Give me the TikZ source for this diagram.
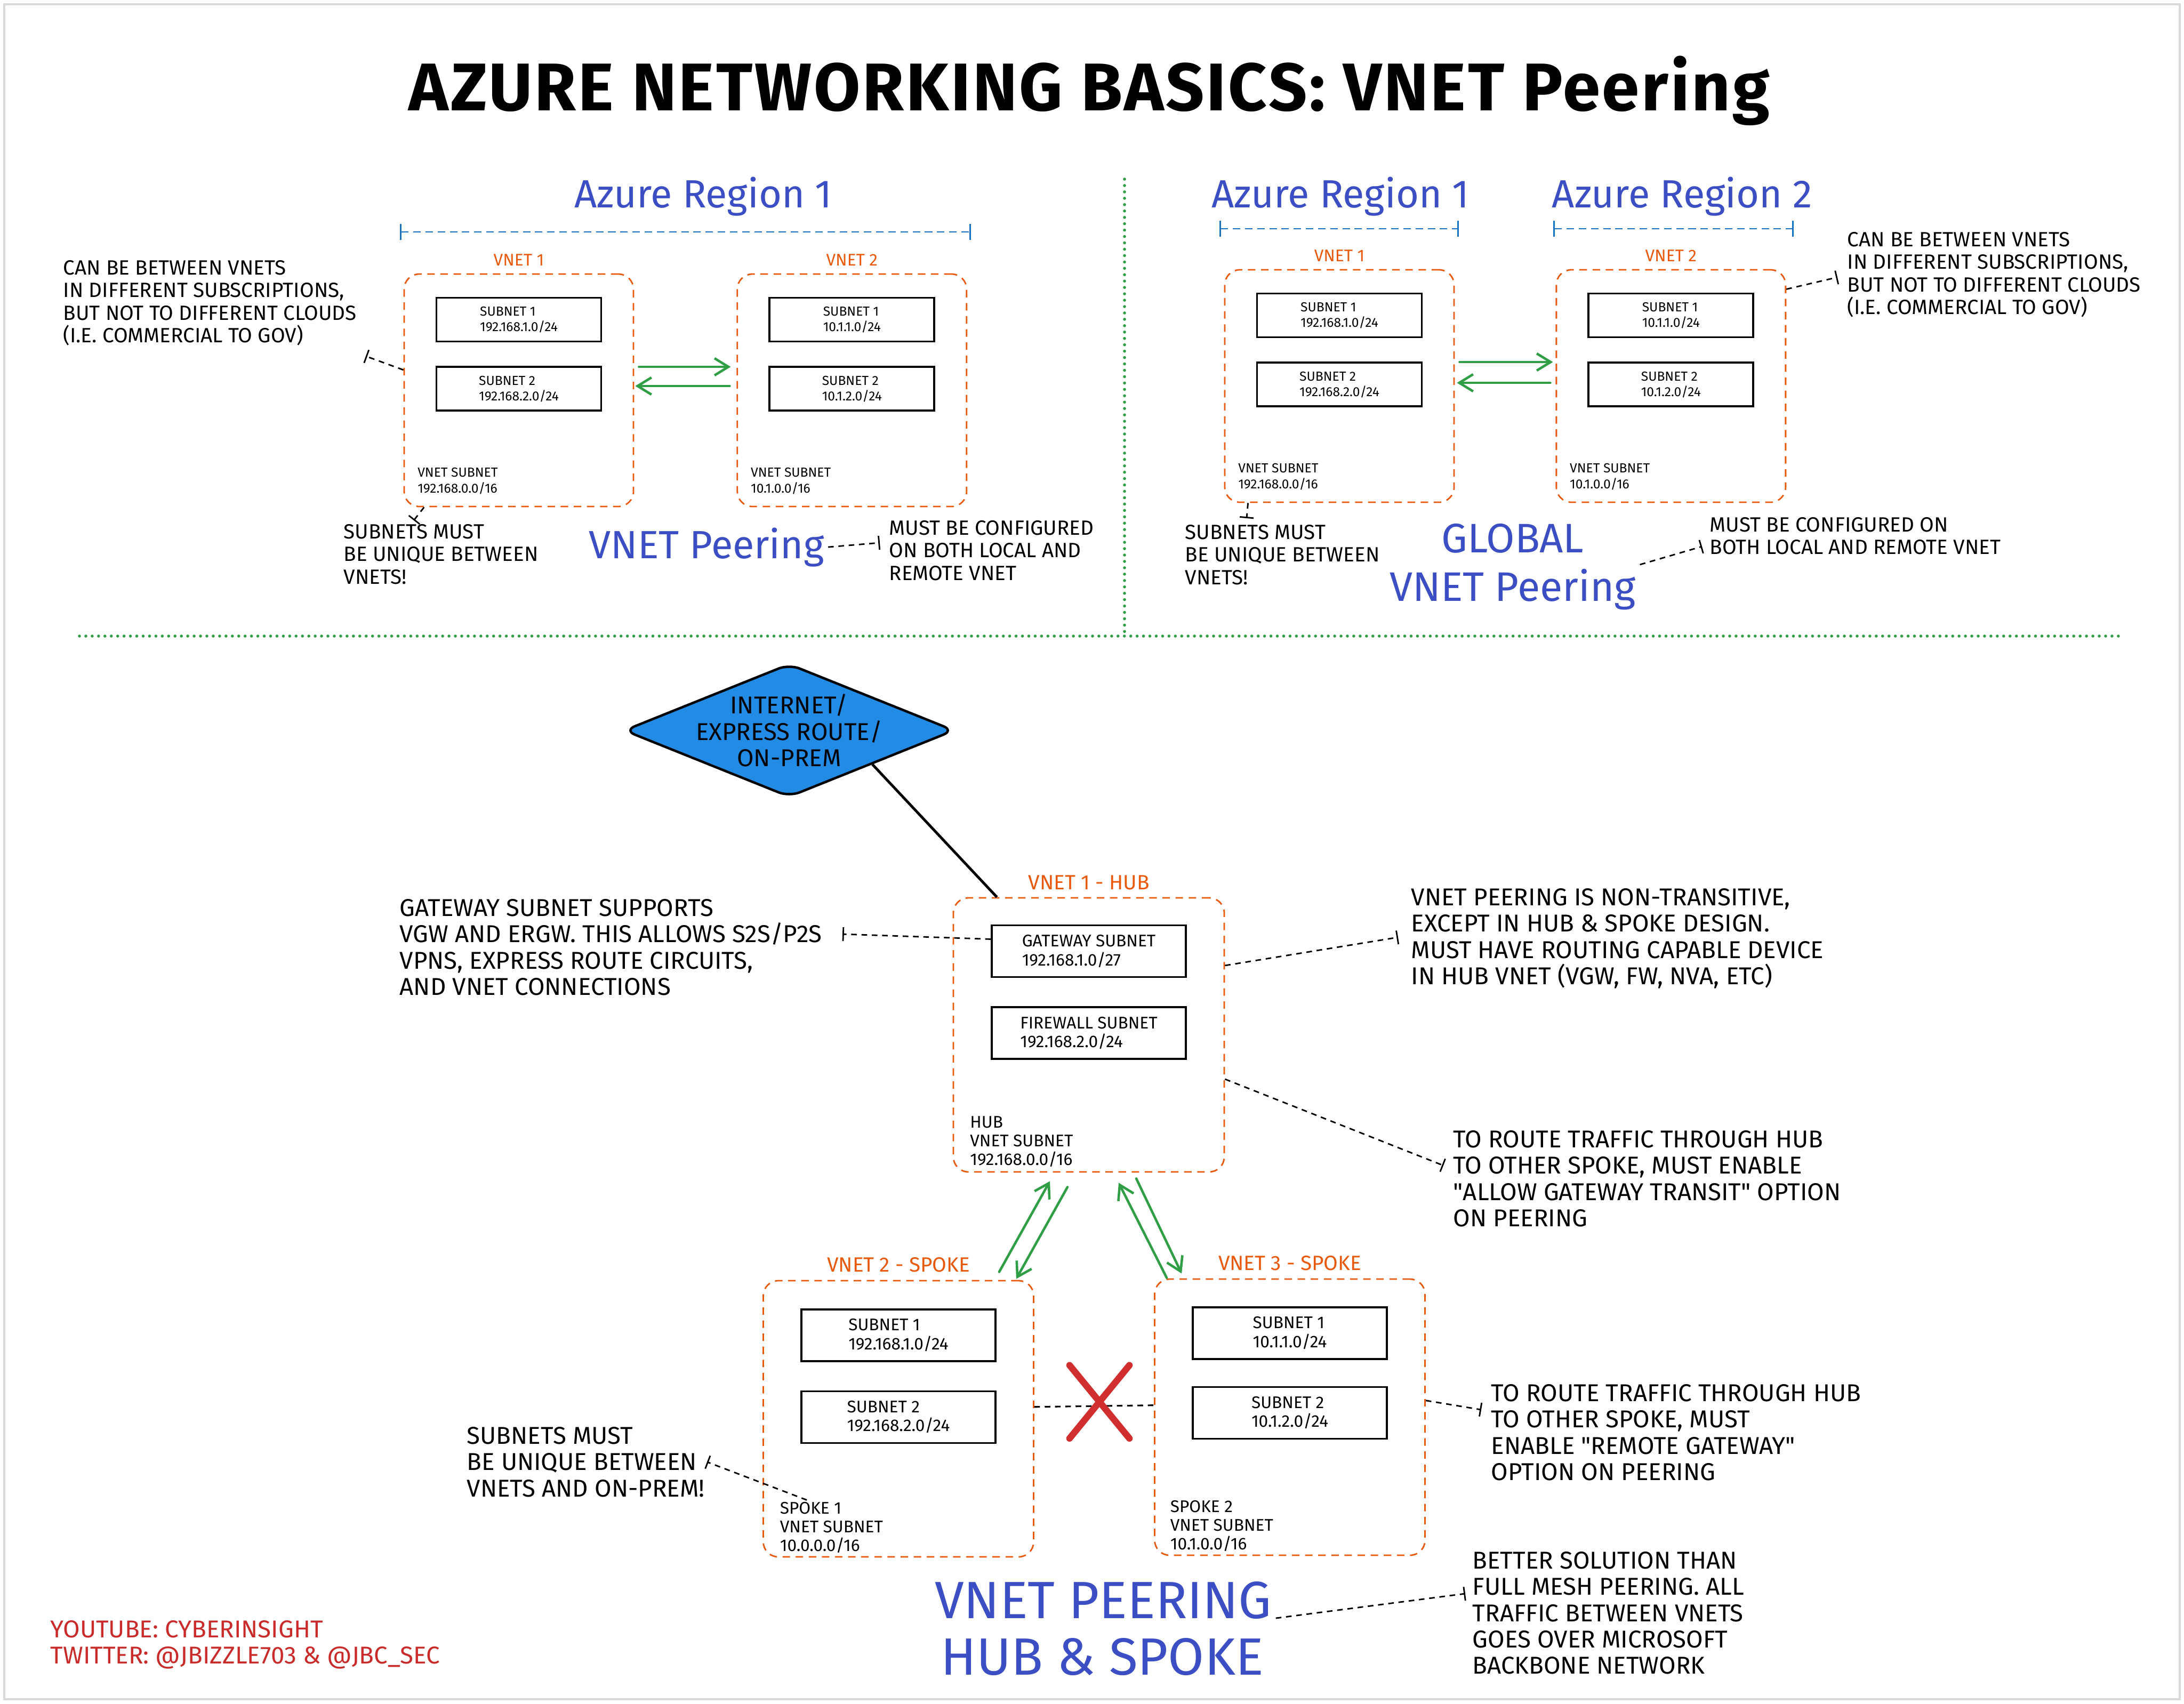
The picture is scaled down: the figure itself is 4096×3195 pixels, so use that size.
\documentclass[tikz,border=0pt]{standalone}
\usepackage{fontspec}
\setmainfont{Fira Sans}
\usepackage{xcolor}
\usepackage{tikz}
\usetikzlibrary{
    positioning,
    arrows.meta,
    calc,
    shapes.geometric,
    shapes.misc
}
\definecolor{vnetOrange}{HTML}{E8590C}
\definecolor{headBlue}{HTML}{3B4EC4}
\definecolor{lineBlue}{HTML}{1971C2}
\definecolor{peerGreen}{HTML}{2F9E44}
\definecolor{netBlue}{HTML}{228BE6}
\definecolor{markRed}{HTML}{D12F2F}
\definecolor{creditRed}{HTML}{C92A2A}
\tikzset{
    % VNETの枠(オレンジの破線)
    vnetbox/.style={
        rectangle,
        rounded corners=8pt,
        draw=vnetOrange,
        line width=0.8pt,
        dash pattern=on 4pt off 3pt,
        inner sep=0pt,
        minimum width=43mm,
        minimum height=43.6mm
    },
    hubsize/.style={minimum width=50.8mm, minimum height=51.4mm},
    spokesize/.style={minimum width=50.7mm, minimum height=51.8mm},
    % サブネットの箱
    subnetbox/.style={
        rectangle,
        draw=black,
        line width=1.1pt,
        fill=white,
        align=left,
        inner sep=0pt,
        minimum width=30.9mm,
        minimum height=8.2mm,
        font=\fontsize{7}{8.3}\selectfont
    },
    bigsubnet/.style={
        subnetbox,
        minimum width=36.4mm,
        minimum height=9.7mm,
        font=\fontsize{9}{10}\selectfont
    },
    % VNETのアドレス
    vnettext/.style={align=left, inner sep=0pt, font=\fontsize{7}{8.3}\selectfont},
    bigvnettext/.style={vnettext, font=\fontsize{9}{10}\selectfont},
    % VNET名(オレンジ)
    vnetlabel/.style={text=vnetOrange, inner sep=0pt, font=\fontsize{9}{10}\selectfont},
    hublabel/.style={vnetlabel, font=\fontsize{11}{12}\selectfont},
    % 注釈テキスト
    note/.style={anchor=north west, align=left, inner sep=0pt, font=\fontsize{11}{12}\selectfont},
    bignote/.style={note, font=\fontsize{13}{14}\selectfont},
    % 見出し(青)
    heading/.style={anchor=base, text=headBlue, inner sep=2pt, font=\fontsize{21}{25}\selectfont},
    midheading/.style={heading, font=\fontsize{22}{26}\selectfont},
    bigheading/.style={heading, font=\fontsize{28}{32}\selectfont},
    titletext/.style={anchor=base, inner sep=0pt,
        font=\fontsize{36}{42}\selectfont\bfseries\addfontfeatures{LetterSpace=3}},
    % ピアリングの矢印(緑)
    peer/.style={
        draw=peerGreen,
        line width=1.3pt,
        line cap=round,
        -{Straight Barb[length=2.6mm, width=3.2mm]}
    },
    % 注釈への破線
    notelink/.style={
        draw=black,
        line width=0.8pt,
        dash pattern=on 3pt off 2.5pt,
        -{Bar[width=2.6mm]}
    },
    spokelink/.style={draw=black, line width=0.9pt, dash pattern=on 3pt off 2.5pt},
    uplink/.style={draw=black, line width=1.4pt},
    % インターネット(ひし形)
    netdiamond/.style={
        diamond,
        draw=black,
        line width=1.3pt,
        fill=netBlue,
        rounded corners=6pt,
        inner sep=0pt,
        minimum width=62mm,
        minimum height=25mm
    },
    nettext/.style={align=center, inner sep=0pt, font=\fontsize{13}{14}\selectfont},
    % 不可(赤のバツ)
    nomark/.style={
        cross out,
        draw=markRed,
        line width=3.5pt,
        line cap=round,
        inner sep=0pt,
        minimum width=10mm,
        minimum height=12.5mm
    },
    % リージョンの範囲(青の破線)
    bracket/.style={
        draw=lineBlue,
        line width=0.8pt,
        dash pattern=on 4pt off 2.5pt,
        {Bar[width=3mm]}-{Bar[width=3mm]}
    },
    % 区切り線(緑の点線)
    divider/.style={draw=peerGreen, line width=1.6pt, line cap=round, dash pattern=on 0pt off 3.4pt}
}

\begin{document}
\begin{tikzpicture}[x=0.1mm, y=-0.1mm]

    \useasboundingbox (0,0) rectangle (4096,3195);
    % 背景と外枠
    \fill[white] (0,0) rectangle (4096,3195);
    \draw[gray!30, line width=1.2pt] (8,8) rectangle (4088,3187);

    % タイトル
    \node[titletext] (title) at (2043,207) {AZURE NETWORKING BASICS: VNET Peering};

    % 区切り線
    \draw[divider] (2109,336) -- (2109,1188);
    \draw[divider] (149,1193) -- (3978,1193);

    % [1] 同一リージョン内のVNETピアリング
    \node[heading] (regL) at (1319,389) {Azure Region 1};
    \draw[bracket] (750,435) -- (1821,435);

    \node[vnetbox] (l1) at (973,732) {};
    \node[vnetbox, right=19.2mm of l1] (l2) {};
    \node[vnetlabel, above=1.3mm of l1] (l1lab) {VNET 1};
    \node[vnetlabel, above=1.3mm of l2] (l2lab) {VNET 2};
    \node[subnetbox, below=4.4mm of l1.north] (l1a) {SUBNET 1\\192.168.1.0/24};
    \node[subnetbox, below=4.4mm of l1a] (l1b) {SUBNET 2\\192.168.2.0/24};
    \node[subnetbox, below=4.4mm of l2.north] (l2a) {SUBNET 1\\10.1.1.0/24};
    \node[subnetbox, below=4.4mm of l2a] (l2b) {SUBNET 2\\10.1.2.0/24};
    \node[vnettext, above right=2.4mm and 2.6mm of l1.south west] (l1t) {VNET SUBNET\\192.168.0.0/16};
    \node[vnettext, above right=2.4mm and 2.6mm of l2.south west] (l2t) {VNET SUBNET\\10.1.0.0/16};

    % 双方向のピアリング
    \draw[peer] ([xshift=0.9mm, yshift=4.4mm]l1.east) -- ([xshift=-1.1mm, yshift=4.4mm]l2.west);
    \draw[peer] ([xshift=-1.3mm, yshift=0.8mm]l2.west) -- ([xshift=0.2mm, yshift=0.8mm]l1.east);

    \node[heading] (peerL) at (1325,1047) {VNET Peering};

    % 注釈
    \node[note] (l1note) at (118,488) {CAN BE BETWEEN VNETS\\IN DIFFERENT SUBSCRIPTIONS,\\BUT NOT TO DIFFERENT CLOUDS\\(I.E. COMMERCIAL TO GOV)};
    \coordinate (c_l1note) at (686,668);
    \draw[notelink] (l1.170) -- (c_l1note);

    \node[note] (l2note) at (644,983) {SUBNETS MUST\\BE UNIQUE BETWEEN\\VNETS!};
    \coordinate (c_l2note) at (776,976);
    \draw[notelink] (l1.231) -- (c_l2note);

    \node[note] (l3note) at (1667,976) {MUST BE CONFIGURED\\ON BOTH LOCAL AND\\REMOTE VNET};
    \coordinate (c_l3note) at (1650,1018);
    \draw[notelink] (peerL.east) -- (c_l3note);

    % [2] グローバルVNETピアリング
    \node[heading] (regR1) at (2514,389) {Azure Region 1};
    \node[heading] (regR2) at (3155,389) {Azure Region 2};
    \draw[bracket] (2287,429) -- (2736,429);
    \draw[bracket] (2913,429) -- (3364,429);

    \node[vnetbox] (r1) at (2512,724) {};
    \node[vnetbox, right=18.9mm of r1] (r2) {};
    \node[vnetlabel, above=1.3mm of r1] (r1lab) {VNET 1};
    \node[vnetlabel, above=1.3mm of r2] (r2lab) {VNET 2};
    \node[subnetbox, below=4.4mm of r1.north] (r1a) {SUBNET 1\\192.168.1.0/24};
    \node[subnetbox, below=4.4mm of r1a] (r1b) {SUBNET 2\\192.168.2.0/24};
    \node[subnetbox, below=4.4mm of r2.north] (r2a) {SUBNET 1\\10.1.1.0/24};
    \node[subnetbox, below=4.4mm of r2a] (r2b) {SUBNET 2\\10.1.2.0/24};
    \node[vnettext, above right=2.4mm and 2.6mm of r1.south west] (r1t) {VNET SUBNET\\192.168.0.0/16};
    \node[vnettext, above right=2.4mm and 2.6mm of r2.south west] (r2t) {VNET SUBNET\\10.1.0.0/16};

    \draw[peer] ([xshift=0.9mm, yshift=4.5mm]r1.east) -- ([xshift=-0.5mm, yshift=4.5mm]r2.west);
    \draw[peer] ([xshift=-1.0mm, yshift=0.6mm]r2.west) -- ([xshift=0.4mm, yshift=0.6mm]r1.east);

    \node[midheading] (glob) at (2837,1036) {GLOBAL};
    \node[midheading] (peerR) at (2837,1127) {VNET Peering};

    \node[note] (r1note) at (3464,435) {CAN BE BETWEEN VNETS\\IN DIFFERENT SUBSCRIPTIONS,\\BUT NOT TO DIFFERENT CLOUDS\\(I.E. COMMERCIAL TO GOV)};
    \coordinate (c_r1note) at (3446,520);
    \draw[notelink] (r2.40) -- (c_r1note);

    \node[note] (r2note) at (2222,984) {SUBNETS MUST\\BE UNIQUE BETWEEN\\VNETS!};
    \coordinate (c_r2note) at (2338,972);
    \draw[notelink] (r1.232) -- (c_r2note);

    \node[note] (r3note) at (3206,970) {MUST BE CONFIGURED ON\\BOTH LOCAL AND REMOTE VNET};
    \coordinate (c_r3note) at (3192,1025);
    \draw[notelink] (peerR.north east) -- (c_r3note);

    % [3] ハブ&スポーク
    \node[netdiamond] (net) at (1480,1370) {};
    \node[nettext] (nettxt) at (net.center) {INTERNET/\\EXPRESS ROUTE/\\ON-PREM};

    \node[vnetbox, hubsize] (hub) at (2042,1941) {};
    \node[hublabel, above=1.3mm of hub] (hublab) {VNET 1 - HUB};
    \node[bigsubnet, below=5.1mm of hub.north] (gw) {GATEWAY SUBNET\\192.168.1.0/27};
    \node[bigsubnet, below=5.3mm of gw] (fw) {FIREWALL SUBNET\\192.168.2.0/24};
    \node[bigvnettext, above right=1mm and 3.2mm of hub.south west] (hubt) {HUB\\VNET SUBNET\\192.168.0.0/16};
    \draw[uplink] (net.south east) -- ($(hub.north west)+(83,0)$);

    % スポーク
    \node[vnetbox, spokesize] (sp1) at (1685,2661) {};
    \node[vnetbox, spokesize] (sp2) at (2419,2658) {};
    \node[hublabel, above=1.4mm of sp1] (sp1lab) {VNET 2 - SPOKE};
    \node[hublabel, above=1.4mm of sp2] (sp2lab) {VNET 3 - SPOKE};
    \node[bigsubnet, below=5.3mm of sp1.north] (sp1a) {SUBNET 1\\192.168.1.0/24};
    \node[bigsubnet, below=5.3mm of sp1a] (sp1b) {SUBNET 2\\192.168.2.0/24};
    \node[bigsubnet, below=5.2mm of sp2.north] (sp2a) {SUBNET 1\\10.1.1.0/24};
    \node[bigsubnet, below=4.9mm of sp2a] (sp2b) {SUBNET 2\\10.1.2.0/24};
    \node[bigvnettext, above right=0.8mm and 3.2mm of sp1.south west] (sp1t) {SPOKE 1\\VNET SUBNET\\10.0.0.0/16};
    \node[bigvnettext, above right=0.8mm and 3.0mm of sp2.south west] (sp2t) {SPOKE 2\\VNET SUBNET\\10.1.0.0/16};

    % ハブとスポーク間のピアリング
    \draw[peer] ([xshift=-6.6mm, yshift=1.5mm]sp1.north east) -- ([xshift=-7.3mm, yshift=-1.6mm]hub.south);
    \draw[peer] ([xshift=-4mm, yshift=-2.7mm]hub.south) -- ([xshift=-3.4mm, yshift=0.2mm]sp1.north east);
    \draw[peer] ([xshift=2.4mm, yshift=0.1mm]sp2.north west) -- ([xshift=5.6mm, yshift=-1.9mm]hub.south);
    \draw[peer] ([xshift=8.9mm, yshift=-1.1mm]hub.south) -- ([xshift=5.2mm, yshift=0.9mm]sp2.north west);

    % スポーク同士は直接つながらない
    \draw[spokelink] (sp1.5) -- (sp2.175);
    \node[nomark, xshift=1mm, yshift=0.8mm] (nox) at ($(sp1.5)!0.5!(sp2.175)$) {};

    % 注釈
    \node[bignote] (gwnote) at (749,1686) {GATEWAY SUBNET SUPPORTS\\VGW AND ERGW. THIS ALLOWS S2S/P2S\\VPNS, EXPRESS ROUTE CIRCUITS,\\AND VNET CONNECTIONS};
    \coordinate (c_gwnote) at (1580,1752);
    \draw[notelink] (gw.173) -- (c_gwnote);

    \node[bignote] (ntnote) at (2646,1666) {VNET PEERING IS NON-TRANSITIVE,\\EXCEPT IN HUB \& SPOKE DESIGN.\\MUST HAVE ROUTING CAPABLE DEVICE\\IN HUB VNET (VGW, FW, NVA, ETC)};
    \coordinate (c_ntnote) at (2622,1758);
    \draw[notelink] (hub.27) -- (c_ntnote);

    \node[bignote] (trnote) at (2725,2120) {TO ROUTE TRAFFIC THROUGH HUB\\TO OTHER SPOKE, MUST ENABLE\\\textquotedbl ALLOW GATEWAY TRANSIT\textquotedbl{} OPTION\\ON PEERING};
    \coordinate (c_trnote) at (2707,2186);
    \draw[notelink] (hub.-18) -- (c_trnote);

    \node[bignote] (rgnote) at (2796,2596) {TO ROUTE TRAFFIC THROUGH HUB\\TO OTHER SPOKE, MUST\\ENABLE \textquotedbl REMOTE GATEWAY\textquotedbl\\OPTION ON PEERING};
    \coordinate (c_rgnote) at (2778,2644);
    \draw[notelink] (sp2.7) -- (c_rgnote);

    \node[bignote] (unote) at (875,2676) {SUBNETS MUST\\BE UNIQUE BETWEEN\\VNETS AND ON-PREM!};
    \coordinate (c_unote) at (1326,2742);
    \draw[notelink] ($(sp1.south west)+(83,-108)$) -- (c_unote);

    \node[bigheading] (hsA) at (2069,3035) {VNET PEERING};
    \node[bigheading] (hsB) at (2067,3141) {HUB \& SPOKE};

    \node[bignote] (bsnote) at (2761,2910) {BETTER SOLUTION THAN\\FULL MESH PEERING. ALL\\TRAFFIC BETWEEN VNETS\\GOES OVER MICROSOFT\\BACKBONE NETWORK};
    \coordinate (c_bsnote) at (2748,2989);
    \draw[notelink] (hsA.base east) -- (c_bsnote);

    % クレジット
    \node[bignote, text=creditRed] (credit) at (94,3039) {YOUTUBE: CYBERINSIGHT\\TWITTER: @JBIZZLE703 \& @JBC\_SEC};

\end{tikzpicture}
\end{document}
